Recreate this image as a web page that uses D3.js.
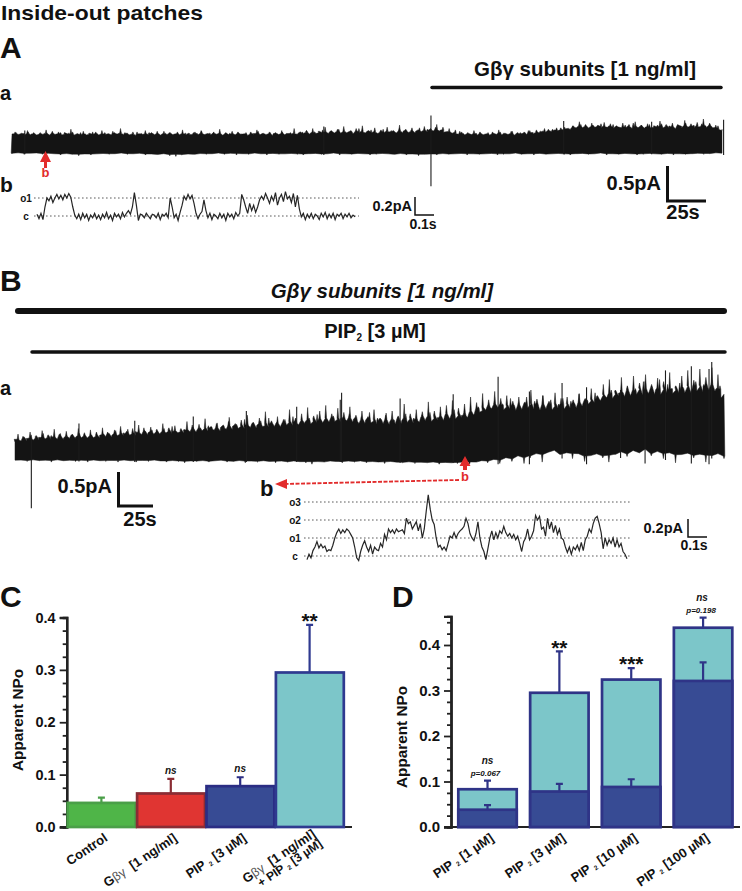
<!DOCTYPE html>
<html><head><meta charset="utf-8">
<script src="https://cdn.jsdelivr.net/npm/d3@7/dist/d3.min.js"></script>
<style>html,body{margin:0;padding:0;background:#fff}svg{display:block}text{font-family:"Liberation Sans",Arial,sans-serif;font-weight:bold;fill:#111;white-space:pre}</style>
</head><body><svg id="c" width="742" height="891"></svg>
<script>
// ---- Panel C
const catC=["Control","Gby1","PIP3","Both"];
const valC=[0.046,0.064,0.078,0.295];
const errC=[0.056,0.092,0.095,0.386];
const fillC=["#4fb548","#e03532","#374b94","#7cc6c9"];
const strokeC=["#4a9f48","#8a2c34","#2b2d84","#2f3a90"];
const sigC=["","ns","ns","**"];
// ---- Panel D
const catD=["1","3","10","100"];
const totalD=[0.083,0.295,0.324,0.438];
const totalErrD=[0.102,0.386,0.349,0.460];
const baseD=[0.038,0.078,0.088,0.321];
const baseErrD=[0.048,0.095,0.105,0.362];
const majorTicks=[0,0.1,0.2,0.3,0.4];
const minorTicksC=[0.025,0.05,0.075,0.125,0.15,0.175,0.225,0.25,0.275,0.325,0.35,0.375];
const minorTicksD=minorTicksC.concat([0.425,0.45]);
// ---- Trace A, pA (upper and lower extremes of the recording)
const traceATop=[.25,.31,.27,.29,.24,.33,.26,.30,.25,.28,.27,.34,.24,.29,.26,.31,.25,.30,.27,.35,.24,.28,.26,.32,.25,.29,.27,.31,.24,.33,.26,.28,.25,.30,.27,.36,.25,.29,.26,.31,.24,.28,.27,.33,.25,.30,.26,.29,.24,.32,.27,.30,.25,.28,.26,.34,.24,.29,.27,.31,.25,.33,.26,.28,.25,.30,.27,.35,.24,.29,.26,.32,.25,.30,.27,.28,.24,.31,.26,.34,.25,.29,.27,.31,.24,.30,.26,.33,.25,.28,.27,.36,.26,.31,.28,.33,.25,.36,.27,.32,.29,.38,.26,.33,.28,.35,.27,.39,.29,.32,.26,.36,.28,.40,.27,.33,.29,.37,.26,.34,.28,.38,.30,.33,.27,.41,.28,.35,.29,.37,.27,.34,.30,.39,.28,.36,.31,.42,.33,.38,.31,.36,.28,.34,.26,.31,.25,.29,.27,.33,.24,.30,.26,.28,.25,.31,.27,.34,.25,.29,.26,.32,.24,.30,.27,.29,.25,.33,.26,.30,.28,.32,.29,.35,.30,.34,.31,.37,.32,.36,.33,.40,.35,.46,.36,.42,.34,.44,.37,.41,.35,.45,.36,.43,.34,.40,.37,.44,.35,.42,.33,.46,.36,.41,.34,.43,.35,.40,.37,.47,.34,.42,.36,.44,.33,.41,.35,.48,.36,.43,.34,.45,.37,.50,.35,.44,.36,.41,.33,.30];
const traceATop2=[.28,.30,.27,.29,.31,.28,.26,.30,.29,.27,.32,.28,.30,.26,.29,.31,.27,.30,.28,.26,.31,.29,.27,.30,.28,.32,.27,.29,.30,.26,.28,.31,.29,.27,.30,.28,.32,.26,.29,.30,.27,.31,.28,.29,.26,.30,.28,.32,.27,.29,.31,.28,.26,.30,.29,.27,.31,.28,.30,.27,.29,.32,.28,.26,.30,.29,.27,.31,.28,.30,.27,.29,.31,.33,.29,.31,.28,.34,.30,.32,.29,.35,.31,.28,.33,.30,.36,.29,.32,.34,.30,.28,.35,.31,.33,.29,.36,.32,.30,.34,.31,.37,.33,.35,.32,.38,.30,.28,.31,.29,.27,.32,.28,.30,.26,.29,.31,.27,.30,.28,.26,.31,.29,.27,.32,.28,.30,.31,.33,.30,.34,.32,.36,.33,.35,.37,.34,.38,.36,.40,.37,.42,.39,.36,.41,.38,.43,.37,.40,.42,.38,.36,.41,.39,.44,.37,.40,.38,.42,.36,.41,.43,.38,.40,.37,.42,.39,.44,.38,.41,.36,.43,.39,.42,.37,.40,.34];
const traceABottom=[-.01,.01,-.02,.00,.01,-.02,.00,-.01,-.03,.00,-.02,-.04,-.01,-.03,-.01,.00,-.02,-.01,.01,-.02,-.01,.00,-.03,-.01,-.02,.00,-.04,-.05,-.03,-.01,-.02,.00,-.02,-.01,.01,-.02,.00,-.03,-.01,-.02,.01,-.01,-.03,.00,-.02,-.01,.00,-.02,-.03,-.01,.00,-.02,-.01,.01,-.03,-.01,-.02,.00,-.01,-.03,-.02,.00,-.01,-.02,.00,-.03,-.01,-.04,-.02,-.01,-.03,.00,-.02,-.01,.00,-.03,-.01,-.02,-.01,.00,-.03,-.02,-.01,.01,-.02,-.01,-.03,.00,-.02,-.01,.00,-.02,-.03,-.01,.00,-.02,-.01,.01,-.03,-.01,-.02,.00,-.01,-.03,-.02,.00,-.01,-.02,.00,-.03,-.01,-.02,-.01,.00,-.02,-.01,.01,.00];
const spikesA=[[262,.55,-.49],[8,.33,-.02],[195,.39,-.03],[345,.47,-.02],[445,.49,-.03],[400,.46,-.02]];
// ---- Trace B, pA
const traceBTop=[.22,.37,.25,.33,.23,.40,.26,.35,.24,.42,.28,.36,.25,.44,.27,.38,.26,.41,.29,.37,.27,.45,.30,.39,.28,.43,.30,.40,.28,.46,.31,.38,.29,.43,.32,.48,.30,.41,.33,.45,.31,.50,.34,.42,.32,.47,.35,.44,.33,.52,.36,.46,.34,.49,.37,.45,.35,.55,.38,.47,.36,.51,.39,.59,.37,.48,.40,.53,.38,.50,.41,.61,.39,.52,.42,.57,.40,.64,.43,.54,.41,.60,.44,.69,.42,.56,.45,.62,.43,.58,.46,.72,.44,.60,.47,.66,.49,.75,.46,.63,.50,.70,.48,.78,.51,.66,.52,.74,.49,.68,.53,.76,.50,.64,.48,.70,.47,.62,.49,.72,.46,.60,.48,.67,.45,.70,.47,.63,.46,.80,.49,.66,.47,.72,.50,.69,.52,.83,.49,.70,.53,.76,.51,.78,.55,.85,.53,.74,.57,.80,.55,.90,.60,.82,.65,.95,.68,.86,.70,.98,.72,.88,.66,.92,.69,.84,.64,.90,.67,.83,.70,1.0,.66,.87,.64,.92,.68,.84,.65,.96,.69,.88,.66,.90,.70,.86,.68,.95,.72,.88,.75,1.02,.78,.92,.80,1.08,.85,1.15,.82,1.00,.88,1.18,.84,1.05,.86,1.2,.88,1.10,.85,1.22,.90,1.08,.87,1.17,.86,1.12,.90,1.25,.88,1.06,.92,1.2,.89,1.28,.90,1.14,.93,1.30,.90,1.18,.95,1.32,.92,1.22,.80,.90];
const traceBTop2=[.30,.28,.34,.31,.36,.29,.33,.38,.30,.35,.32,.37,.29,.34,.36,.31,.38,.33,.30,.36,.32,.35,.37,.40,.34,.42,.36,.39,.44,.35,.41,.37,.46,.38,.43,.40,.36,.45,.39,.48,.41,.37,.44,.42,.50,.39,.46,.44,.49,.42,.52,.46,.44,.55,.48,.51,.45,.58,.47,.53,.49,.56,.44,.60,.50,.54,.47,.58,.52,.62,.48,.56,.53,.60,.51,.65,.55,.58,.52,.63,.56,.60,.54,.66,.58,.52,.62,.56,.68,.53,.60,.57,.64,.52,.58,.61,.54,.66,.56,.60,.53,.63,.57,.68,.55,.61,.59,.66,.56,.72,.60,.64,.58,.70,.62,.76,.66,.72,.70,.84,.74,.80,.72,.88,.76,.82,.74,.90,.78,.84,.72,.92,.76,.86,.74,.80,.88,.76,.84,.78,.94,.80,.86,.82,.96,.84,.92,.88,1.0,.90,.96,.94,1.06,.92,1.02,.98,1.12,.94,1.04,1.00,1.15,.96,1.08,1.02,.94,1.10,1.00,1.05,.96,1.12,1.02,1.08,.98,1.14,1.00,1.06,.88];
const traceBBottom=[.00,.00,-.02,.01,-.01,.00,-.03,.01,-.01,.00,-.02,.00,-.03,.01,-.01,-.02,.00,-.03,.01,-.01,-.03,.00,-.02,.01,-.01,-.03,.00,-.02,-.04,-.01,-.02,.00,-.03,-.01,.01,-.03,-.02,.00,-.04,-.01,-.03,.00,-.02,-.04,-.01,-.03,.00,-.02,-.04,-.06,-.02,-.03,.00,-.02,-.04,-.01,-.03,.00,-.04,-.02,-.03,-.05,-.01,-.03,-.04,-.02,-.05,-.03,-.04,-.02,-.06,-.03,-.04,-.05,-.02,-.06,-.03,.00,-.04,.02,-.05,.06,-.02,.10,-.05,.03,.12,-.03,.15,.19,.08,.13,.02,.10,-.02,.07,.12,.03,-.03,.08,.14,.05,.17,.10,.20,.06,.15,.02,.12,-.04,.09,.14,.03,.11,-.03,.06,.13,.02];
const spikesB=[[12,.30,-.69],[47,.52,-.02],[88,.56,-.03],[131,.62,-.03],[170,.70,-.03],[207,.76,-.03],[239,.86,-.03],[240,.96,-.03],[283,.88,-.04],[322,.94,-.04],[355,1.19,-.06],[378,.98,-.06],[402,1.10,.02],[420,1.04,-.06],[445,1.00,.03],[463,1.12,-.05],[478,1.28,.00],[497,1.34,-.05],[512,1.40,.02],[510,1.30,-.06]];
// ---- Single channel inserts, pA
const insertA=[.02,-.03,.03,-.04,.10,.20,.17,.22,.15,.20,.24,.19,.23,.18,.24,.20,.25,.21,.10,.01,-.03,.02,-.04,.03,-.02,.02,-.05,.01,-.02,.03,-.03,.01,-.04,.02,-.02,.04,-.03,.01,-.05,.03,-.01,.02,-.03,.04,-.01,.03,.06,.02,.10,.26,.12,-.05,.02,.01,-.02,.03,.00,-.03,.02,.01,-.02,.03,-.04,.02,.00,.03,-.02,.20,.10,-.02,.02,-.05,.04,.12,.22,.18,.24,.19,.23,.14,.03,-.03,.02,.05,.18,.06,-.02,.03,-.04,.02,.00,-.03,.03,-.02,.02,-.05,.03,-.01,.02,-.03,.04,.00,.03,.24,.18,.10,.03,.14,.06,.12,.04,.10,.18,.22,.18,.25,.20,.14,.22,.17,.26,.12,.20,.24,.16,.27,.19,.22,.15,.25,.10,.23,.08,-.01,.03,-.04,.02,-.02,.03,-.03,.02,.00,-.04,.03,-.01,.04,-.03,.02,-.02,.03,-.04,.02,.00,.03,-.03,.02,-.01,.03,-.02,.01,-.01];
const insertB=[-.04,.02,-.02,.06,.10,.16,.09,.13,.09,.11,.05,.07,.06,.12,.20,.26,.30,.25,.29,.26,.30,.28,.24,.20,.10,-.02,-.05,.05,.12,.17,.10,.05,.12,.02,.10,.07,.06,.14,.10,.24,.18,.30,.26,.29,.25,.30,.27,.28,.29,.25,.42,.36,.38,.30,.34,.38,.28,.36,.20,.30,.50,.68,.52,.40,.35,.20,.10,.12,.07,.10,.06,.14,.22,.20,.26,.20,.25,.28,.30,.33,.42,.36,.25,.20,.17,.25,.38,.20,.10,.05,-.04,.08,.20,.28,.18,.26,.20,.28,.25,.33,.26,.22,.25,.20,.24,.18,.22,.14,.05,.16,.20,.30,.18,.22,.28,.45,.40,.44,.30,.32,.22,.42,.30,.38,.26,.34,.24,.30,.20,.18,.10,.04,.10,.02,.10,.07,.12,.06,.15,.06,.18,.22,.30,.26,.36,.42,.44,.36,.26,.08,.20,.12,.18,.14,.20,.10,.18,.10,.14,.05,.02,-.03];

const svg=d3.select("#c");
const T=(x,y,s,size,o={})=>{const t=svg.append("text").attr("x",x).attr("y",y).attr("font-size",size).text(s);
  if(o.a)t.attr("text-anchor",o.a); if(o.i)t.attr("font-style","italic"); if(o.c)t.style("fill",o.c); if(o.w)t.style("font-weight",o.w); return t;};
const sub=(t,s,size)=>t.append("tspan").attr("font-size",size).attr("dy",3).text(s);

// headings
T(1,19.5,"Inside-out patches",21).attr("textLength",202).attr("lengthAdjust","spacingAndGlyphs");
T(0,58,"A",30); T(0,100,"a",20); T(0,192,"b",21);
T(0,291,"B",30); T(0,395,"a",20); T(0,607,"C",30); T(392,607,"D",30);

function bar(x1,x2,y,w){svg.append("line").attr("x1",x1).attr("x2",x2).attr("y1",y).attr("y2",y).attr("stroke","#111").attr("stroke-width",w).attr("stroke-linecap","round");}
T(585,76,"Gβγ subunits [1 ng/ml]",20.5,{a:"middle"}); bar(432,721,87.5,3.5);
T(382,298,"Gβγ subunits [1 ng/ml]",20.5,{a:"middle",i:1}); bar(18,724,311,6);
const pt=T(375,338,"PIP",20,{a:"middle"}); sub(pt,"2",10); pt.append("tspan").attr("dy",-3).text(" [3 µM]"); bar(32,725,352,3.5);

function scaleBarL(x,y1,y2,x2,w){svg.append("path").attr("d",`M${x},${y1}V${y2}H${x2}`).attr("fill","none").attr("stroke","#111").attr("stroke-width",w);}

// long traces: samples become narrow needles on a solid body
function edge2(points,sign){
  const out=[];
  points.forEach((p,i)=>{
    const L=d3.mean(points.slice(Math.max(0,i-4),i+5),q=>q[1]);
    if((p[1]-L)*sign>0) out.push([p[0]-.8,L],[p[0],p[1]],[p[0]+.8,L]);
    else out.push([p[0],(p[1]+L)/2]);
  });
  return out;
}
function trace(tops,bottom,spikes,xr,duration,yBase,pxPerPa){
  const x=d3.scaleLinear().domain([0,duration]).range(xr);
  const y=d3.scaleLinear().domain([0,1]).range([yBase,yBase-pxPerPa]);
  const pts=(a)=>{const t=d3.scaleLinear().domain([0,a.length-1]).range([0,duration]);return a.map((v,i)=>[x(t(i)),y(v)]);};
  const up=edge2(d3.merge(tops.map(pts)).sort((p,q)=>p[0]-q[0]),-1);
  const dn=edge2(pts(bottom),1).reverse();
  svg.append("path").attr("d",d3.line()(up.concat(dn))+"Z").attr("fill","#141414").attr("stroke","#141414").attr("stroke-width",.5).attr("stroke-linejoin","bevel");
  svg.append("g").attr("stroke","#1c1c1c").attr("stroke-width",1.1).selectAll("line").data(spikes).join("line").attr("x1",d=>x(d[0])).attr("x2",d=>x(d[0])).attr("y1",d=>y(d[1])).attr("y2",d=>y(d[2]));
}
trace([traceATop,traceATop2],traceABottom,spikesA,[12,722],444,153,68);
trace([traceBTop,traceBTop2],traceBBottom,spikesB,[15,724],521,460,70);

// inserts
function insert(vals,xr,yC,levels,labelX){
  const x=d3.scaleLinear().domain([0,vals.length-1]).range(xr);
  const y=d3.scaleLinear().domain([0,.2]).range([yC,yC-18]);
  levels.forEach((l,i)=>{
    svg.append("line").attr("x1",xr[0]-3).attr("x2",xr[1]+4).attr("y1",y(i*.2)).attr("y2",y(i*.2)).attr("stroke","#333").attr("stroke-width",.8).attr("stroke-dasharray","1.6 2.4");
    T(labelX,y(i*.2)+3.5,l,10,{a:"middle"});
  });
  svg.append("path").attr("d",d3.line().x((d,i)=>x(i)).y(d=>y(d))(vals)).attr("fill","none").attr("stroke","#262626").attr("stroke-width",1.2);
}
insert(insertA,[37,355],216,["c","o1"],26);
insert(insertB,[307,627],556,["c","o1","o2","o3"],295);

// scale bars
T(661,190,"0.5pA",20,{a:"end"}); scaleBarL(667.5,166,201,706,3); T(683,219,"25s",20,{a:"middle"});
T(412,211,"0.2pA",14.5,{a:"end"}); scaleBarL(415,197,215,434,1.5); T(423,229,"0.1s",14,{a:"middle"});
T(112,493,"0.5pA",20,{a:"end"}); scaleBarL(118.5,472,506,153,3); T(140,526,"25s",20,{a:"middle"});
T(683,533,"0.2pA",14.5,{a:"end"}); scaleBarL(688,519,537,707,1.5); T(694,550,"0.1s",14,{a:"middle"});

// red markers
const red="#e22c2c";
svg.append("path").attr("d","M45.5,151L51,162H47V168H44V162H40Z").attr("fill",red);
T(45.5,177,"b",13,{a:"middle",c:red});
svg.append("path").attr("d","M465,456L470.5,466H467V470H463V466H459.5Z").attr("fill",red);
T(465,481,"b",13,{a:"middle",c:red});
svg.append("line").attr("x1",459).attr("y1",480).attr("x2",284).attr("y2",484).attr("stroke",red).attr("stroke-width",1.8).attr("stroke-dasharray","4 1.5");
svg.append("path").attr("d","M275,484L287,479V489Z").attr("fill",red);
T(260,496,"b",22);

// bar charts
function axes(y,minor,x0,x1,y0,ty,labelX,labelY,fs,lfs){
  const g=svg.append("g").attr("transform",`translate(${ty},0)`);
  g.call(d3.axisLeft(y).tickValues(minor).tickSize(4).tickFormat(""));
  const m=svg.append("g").attr("transform",`translate(${ty},0)`);
  m.call(d3.axisLeft(y).tickValues(majorTicks).tickSize(7).tickPadding(4).tickFormat(d3.format(".1f")));
  m.selectAll("text").attr("font-size",fs).attr("font-family",null).style("font-family",'"Liberation Sans",Arial,sans-serif');
  [g,m].forEach(s=>{s.selectAll("path.domain").attr("stroke","#222").attr("stroke-width",2.4);s.selectAll(".tick line").attr("stroke","#222").attr("stroke-width",1.8);});
  svg.append("line").attr("x1",x0).attr("x2",x1).attr("y1",y0).attr("y2",y0).attr("stroke","#222").attr("stroke-width",2);
  svg.append("text").attr("transform",`translate(${labelX},${labelY}) rotate(-90)`).attr("text-anchor","middle").attr("font-size",lfs).text("Apparent NPo");
}
function rect(x,w,y,v,fill,stroke){
  svg.append("rect").attr("x",x).attr("width",w).attr("y",y(v)).attr("height",y(0)-y(v)).attr("fill",fill).attr("stroke",stroke).attr("stroke-width",2.7);
}
function err(cx,y,a,b,col,cap){
  svg.append("path").attr("d",`M${cx},${y(a)}V${y(b)}M${cx-cap},${y(b)}H${cx+cap}`).attr("fill","none").attr("stroke",col).attr("stroke-width",2.2);
}
function xlabel(cx,build,yy=840){const t=svg.append("text").attr("text-anchor","end").attr("transform",`translate(${cx+7},${yy}) rotate(-34)`).attr("font-size",13);build(t);return t;}
const gbg=(t,x,dy)=>{const s=t.append("tspan"); if(x!==undefined)s.attr("x",x).attr("dy",dy); s.text("G");
  t.append("tspan").style("font-weight","normal").style("fill","#555").attr("font-size",12.5).text("βγ");t.append("tspan").text("  [1 ng/ml]");};
const pip=(t,tail,x,dy,fs)=>{const s=t.append("tspan"); if(x!==undefined)s.attr("x",x).attr("dy",dy); if(fs)s.attr("font-size",fs); s.text(tail[0]+"PIP ");
  t.append("tspan").attr("font-size",6.5).attr("dy",1.5).text("2");const e=t.append("tspan").attr("dy",-1.5).text(" ["+tail[1]+"]"); if(fs)e.attr("font-size",fs);};

// Panel C
const yC=d3.scaleLinear().domain([0,.4]).range([827,617.5]);
const xC=d3.scaleBand().domain(catC).range([66.7,344.3]).padding(0);
axes(yC,minorTicksC,60,352,827,66.7,23,720,14.5,15.3);
catC.forEach((c,i)=>{
  err(xC(c)+xC.bandwidth()/2,yC,valC[i],errC[i],strokeC[i],3.5);
});
catC.forEach((c,i)=>{
  rect(xC(c)+1,xC.bandwidth()-1.5,yC,valC[i],fillC[i],strokeC[i]);
});
xlabel(xC("Control")+xC.bandwidth()/2,t=>t.text("Control"));
xlabel(xC("Gby1")+xC.bandwidth()/2,t=>gbg(t));
xlabel(xC("PIP3")+xC.bandwidth()/2,t=>pip(t,["","3 µM"]));
xlabel(xC("Both")+xC.bandwidth()/2,t=>{gbg(t,0,0);pip(t,["+ ","3 µM"],0,11.5,12);},836);
sigC.forEach((s,i)=>{
  if(!s)return; const cx=xC(catC[i])+xC.bandwidth()/2;
  if(s==="ns")T(cx,yC(errC[i])-5,s,10,{a:"middle",i:1});
  else T(cx,yC(errC[i])+3,s,21,{a:"middle"});
});

// Panel D
const yD=d3.scaleLinear().domain([0,.4]).range([827,645]);
const xD=d3.scaleBand().domain(catD).range([458.3,732.3]).paddingInner(.187).paddingOuter(0);
axes(d3.scaleLinear().domain([0,.463]).range([827,yD(.463)]),minorTicksD,444,740,827,451,407,737,15,15.3);
const teal="#7cc6c9",navy="#374b94",edge="#2f3487";
catD.forEach((c,i)=>{
  const w=xD.bandwidth(),x=xD(c),cx=x+w/2;
  err(cx,yD,totalD[i],totalErrD[i],edge,3.5);
  rect(x,w,yD,totalD[i],teal,edge);
  err(cx,yD,baseD[i],baseErrD[i],edge,3.5);
  rect(x,w,yD,baseD[i],navy,edge);
  xlabel(cx,t=>pip(t,["",c+" µM"]));
});
T(xD("1")+xD.bandwidth()/2,764,"ns",10,{a:"middle",i:1});
T(xD("1")+xD.bandwidth()/2-2,776,"p=0.067",8,{a:"middle",i:1});
T(xD("100")+xD.bandwidth()/2-1,601,"ns",10,{a:"middle",i:1});
T(xD("100")+xD.bandwidth()/2-2,613,"p=0.198",8,{a:"middle",i:1});
T(xD("3")+xD.bandwidth()/2,655,"**",21,{a:"middle"});
T(xD("10")+xD.bandwidth()/2,671,"***",21,{a:"middle"});
</script></body></html>
